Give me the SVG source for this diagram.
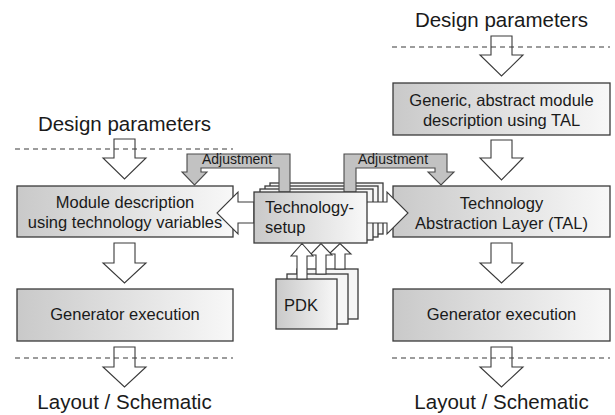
<svg xmlns="http://www.w3.org/2000/svg" width="615" height="415" viewBox="0 0 615 415">
<defs>
<linearGradient id="g" x1="0" y1="0" x2="1" y2="0">
<stop offset="0" stop-color="#c9c9c9"/>
<stop offset="1" stop-color="#f8f8f8"/>
</linearGradient>
</defs>
<style>
.box{fill:url(#g);stroke:#3a3a3a;stroke-width:1.3}
.page{fill:#f6f6f6;stroke:#3a3a3a;stroke-width:1.3}
.arr{fill:#fff;stroke:#3a3a3a;stroke-width:1.1;stroke-linejoin:miter}
.adj{fill:#c2c2c2;stroke:#4a4a4a;stroke-width:1.1}
.dash{stroke:#3a3a3a;stroke-width:1.1;stroke-dasharray:5 4;fill:none}
text{font-family:"Liberation Sans",Arial,sans-serif;fill:#1a1a1a}
.big{font-size:20.5px}
.mid{font-size:16.5px}
.sm{font-size:14px}
.c{text-anchor:middle}
</style>

<g id="title-left"><text class="big c" x="124.5" y="131">Design parameters</text></g>
<g id="title-right"><text class="big c" x="501.5" y="27">Design parameters</text></g>
<g id="out-left"><text class="big c" x="124.5" y="409">Layout / Schematic</text></g>
<g id="out-right"><text class="big c" x="501.5" y="409">Layout / Schematic</text></g>

<g id="module">
<rect class="box" x="17" y="186" width="216" height="51"/>
<text class="mid c" x="125" y="208">Module description</text>
<text class="mid c" x="125" y="228">using technology variables</text>
</g>
<g id="gen-left">
<rect class="box" x="17" y="289" width="216" height="52"/>
<text class="mid c" x="125" y="320">Generator execution</text>
</g>
<g id="generic">
<rect class="box" x="393" y="83" width="217" height="52"/>
<text class="mid c" x="501.5" y="106">Generic, abstract module</text>
<text class="mid c" x="501.5" y="126">description using TAL</text>
</g>
<g id="tal">
<rect class="box" x="393" y="186" width="217" height="51"/>
<text class="mid c" x="501.5" y="209">Technology</text>
<text class="mid c" x="501.5" y="229">Abstraction Layer (TAL)</text>
</g>
<g id="gen-right">
<rect class="box" x="393" y="289" width="217" height="52"/>
<text class="mid c" x="501.5" y="320">Generator execution</text>
</g>

<g id="tech-setup">
<rect class="page" x="270" y="183" width="113" height="51"/>
<rect class="page" x="265" y="186" width="113" height="51"/>
<rect class="page" x="260" y="189" width="113" height="51"/>
</g>

<g id="connectors">
<polygon class="adj" points="290,192 290,154 187,154 187,172 182,172 194.5,185 207,172 201,172 201,168 279,168 279,192"/>
<polygon class="adj" points="344,192 344,154 447,154 447,172 454,172 441,185 428,172 435,172 435,168 356,168 356,192"/>
<text class="sm" x="202" y="164">Adjustment</text>
<text class="sm" x="358" y="164">Adjustment</text>

<polygon class="arr" points="114,139 135,139 135,158 146,158 124.5,179 103,158 114,158"/>
<polygon class="arr" points="114,243 135,243 135,263 146,263 124.5,283 103,263 114,263"/>
<polygon class="arr" points="114,347 135,347 135,367 146,367 124.5,387 103,367 114,367"/>
<polygon class="arr" points="491,36 512,36 512,55 523,55 501.5,76 480,55 491,55"/>
<polygon class="arr" points="491,140 512,140 512,158 523,158 501.5,180 480,158 491,158"/>
<polygon class="arr" points="491,243 512,243 512,263 523,263 501.5,283 480,263 491,263"/>
<polygon class="arr" points="491,347 512,347 512,367 523,367 501.5,387 480,367 491,367"/>

<polygon class="arr" points="254,202 238,202 238,192 217,213 238,234 238,223 254,223"/>
<polygon class="arr" points="366,202 387,202 387,192 408,213 387,234 387,223 366,223"/>

<line class="dash" x1="15" y1="149" x2="233" y2="149"/>
<line class="dash" x1="15" y1="358" x2="233" y2="358"/>
<line class="dash" x1="392" y1="47" x2="610" y2="47"/>
<line class="dash" x1="392" y1="358" x2="610" y2="358"/>
</g>

<g id="tech-front">
<rect class="box" x="254" y="192" width="113" height="51"/>
<text class="mid" x="265" y="213">Technology-</text>
<text class="mid" x="265" y="233">setup</text>
</g>

<g id="pdk">
<rect class="page" x="297" y="269" width="61" height="50"/>
<polygon class="arr" points="335,269 335,254 329,254 340,243.5 351,254 345,254 345,269"/>
<rect class="page" x="287" y="274" width="61" height="50"/>
<polygon class="arr" points="316,274 316,255 310,255 321,243.5 332,255 326,255 326,274"/>
<rect class="box" x="276" y="279" width="61" height="50"/>
<polygon class="arr" points="297,279 297,256 291,256 302,243.5 313,256 307,256 307,279"/>
<text class="mid" x="284" y="311">PDK</text>
</g>
</svg>
